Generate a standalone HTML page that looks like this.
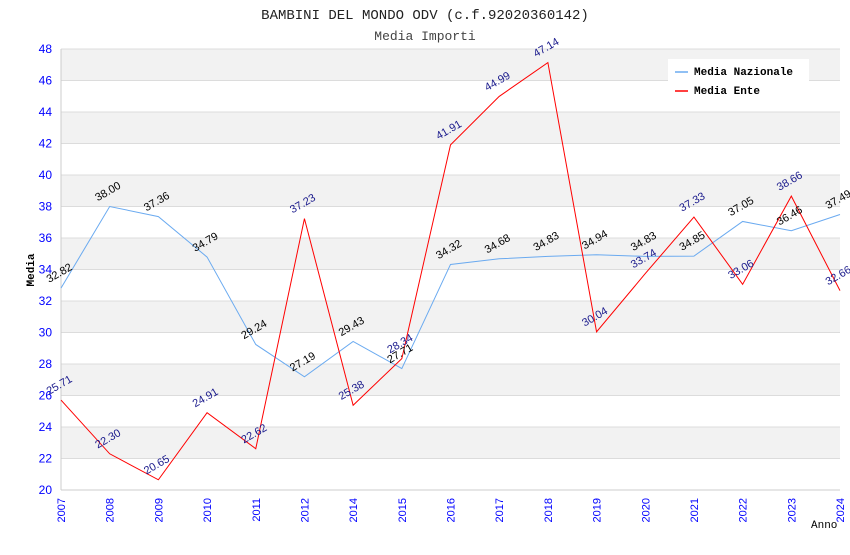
<!DOCTYPE html>
<html><head><meta charset="utf-8"><style>
body{margin:0;background:#fff;}
svg text{font-family:"Liberation Sans",sans-serif;}
</style></head><body>
<svg id="chart" width="850" height="550" xmlns="http://www.w3.org/2000/svg">
<text x="425" y="19" text-anchor="middle" style="font-family:'Liberation Mono',monospace" font-size="14" fill="#222">BAMBINI DEL MONDO ODV (c.f.92020360142)</text>
<text x="425" y="40" text-anchor="middle" style="font-family:'Liberation Mono',monospace" font-size="13" fill="#444">Media Importi</text>
<g id="grid"></g>
<g id="series"></g>
<g id="labels"></g>
<text transform="translate(34,270) rotate(-90)" text-anchor="middle" style="font-family:'Liberation Mono',monospace;font-weight:bold" font-size="11" fill="#000">Media</text>
<text x="811" y="528" style="font-family:'Liberation Mono',monospace" font-size="11" fill="#000">Anno</text>
<g>
<rect x="668" y="59" width="141" height="43" fill="#fff"/>
<line x1="675" y1="72" x2="688" y2="72" stroke="#6aaaf0" stroke-width="1.5"/>
<text x="694" y="75" style="font-family:'Liberation Mono',monospace;font-weight:bold" font-size="11">Media Nazionale</text>
<line x1="675" y1="91" x2="688" y2="91" stroke="#f00" stroke-width="1.5"/>
<text x="694" y="94" style="font-family:'Liberation Mono',monospace;font-weight:bold" font-size="11">Media Ente</text>
</g>
</svg>
<script>
const years=["2007","2008","2009","2010","2011","2012","2014","2015","2016","2017","2018","2019","2020","2021","2022","2023","2024"];
const nazionale=[32.82,38.00,37.36,34.79,29.24,27.19,29.43,27.71,34.32,34.68,34.83,34.94,34.83,34.85,37.05,36.46,37.49];
const ente=[25.71,22.30,20.65,24.91,22.62,37.23,25.38,28.34,41.91,44.99,47.14,30.04,33.74,37.33,33.06,38.66,32.66];
const yTicks=[20,22,24,26,28,30,32,34,36,38,40,42,44,46,48];
const L=61,R=840,T=49,B=490,ymin=20,ymax=48;
const NS="http://www.w3.org/2000/svg";
function xs(i){return L+(R-L)*i/(years.length-1);}
function ys(v){return B-(v-ymin)/(ymax-ymin)*(B-T);}
function mk(tag,attrs,parent,txt){const e=document.createElementNS(NS,tag);for(const k in attrs)e.setAttribute(k,attrs[k]);if(txt!==undefined)e.textContent=txt;parent.appendChild(e);return e;}
const grid=document.getElementById('grid'),ser=document.getElementById('series'),lab=document.getElementById('labels');
for(let i=0;i<yTicks.length-1;i++){
  if(i%2===1){const r=mk('rect',{x:L,y:ys(yTicks[i+1]),width:R-L,height:ys(yTicks[i])-ys(yTicks[i+1]),fill:'#f2f2f2'},grid);
  
  }
}
yTicks.forEach(v=>{
  const l=mk('line',{x1:L,x2:R,y1:ys(v),y2:ys(v),stroke:'#dcdcdc'},grid);
  
  
  const t=mk('text',{x:52,y:ys(v)+4,'text-anchor':'end','font-size':12,fill:'#0000ff'},grid,String(v));
  
  
});
mk('line',{x1:L,x2:L,y1:T,y2:B,stroke:'#ccc'},grid);
mk('line',{x1:L,x2:R,y1:B,y2:B,stroke:'#ccc'},grid);
years.forEach((y,i)=>{
  const t=mk('text',{transform:`translate(${xs(i)+4},${B+8}) rotate(-90)`,'text-anchor':'end','font-size':11,fill:'#0000ff'},grid,y);
  
  
});
function series(vals,color,name,lc){
  const p=mk('polyline',{points:vals.map((v,i)=>xs(i)+','+ys(v)).join(' '),fill:'none',stroke:color,'stroke-width':1},ser);
  
  
  vals.forEach((v,i)=>{
    const x=xs(i),y=ys(v)-12;
    const t=mk('text',{transform:`translate(${x},${y}) rotate(-30)`,'text-anchor':'middle','font-size':11,fill:lc},lab,v.toFixed(2));
    
    
  });
}
series(nazionale,'#6aaaf0','line-media-nazionale','#000');
series(ente,'#ff0000','line-media-ente','#1a1a8c');
</script>
</body></html>
